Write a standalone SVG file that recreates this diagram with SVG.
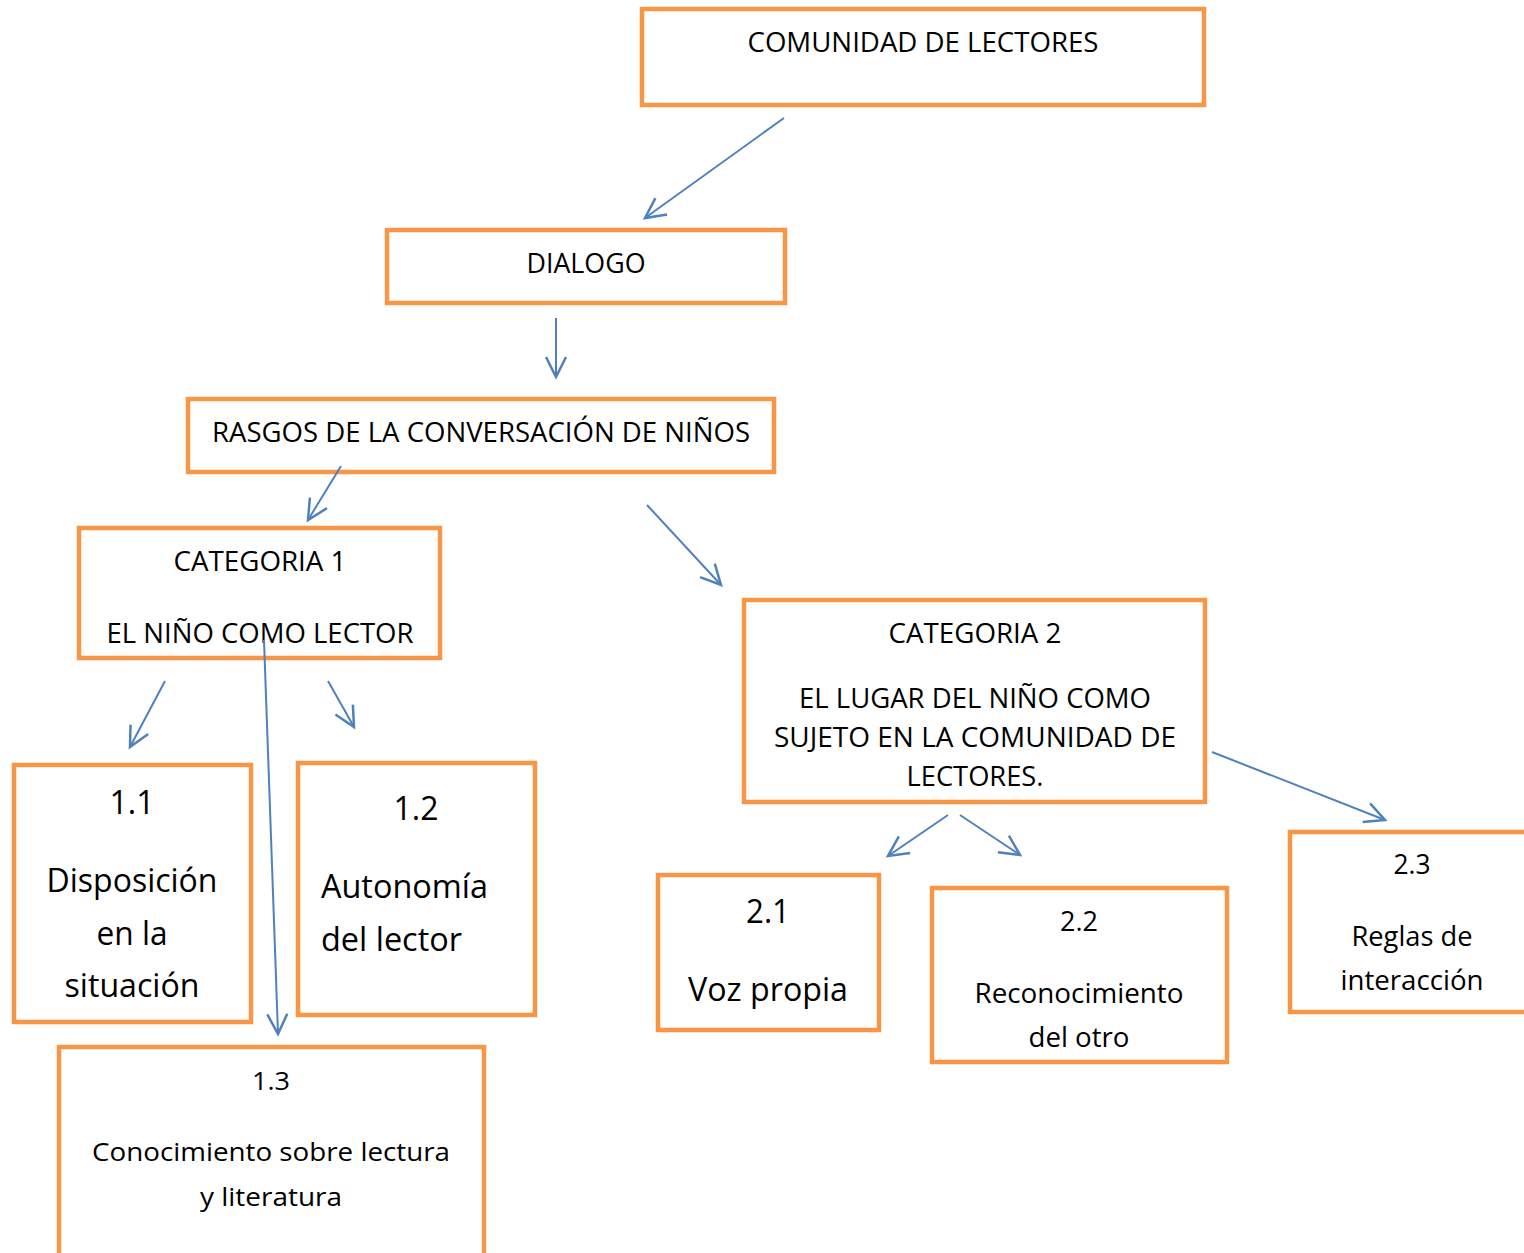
<svg xmlns="http://www.w3.org/2000/svg" width="1524" height="1253" viewBox="0 0 1524 1253">
<style>
.box{fill:#fff;stroke:#F79646;stroke-width:4.5}
.t{font-family:"Open Sans","Liberation Sans",sans-serif;fill:#000;text-anchor:middle}
.l{text-anchor:start}
.c{stroke:#4F81BD;stroke-width:2;fill:none;marker-end:url(#ah)}
</style>
<defs>
<marker id="ah" markerUnits="userSpaceOnUse" markerWidth="30" markerHeight="30" viewBox="-20 -12 24 24" refX="0" refY="0" orient="auto">
<path d="M-16,-8 L0,0 L-16,8" fill="none" stroke="#4F81BD" stroke-width="2"/>
</marker>
</defs>
<rect width="1524" height="1253" fill="#fff"/>
<g id="n-comunidad"><rect class="box" x="642" y="9" width="562" height="96"/>
<text class="t" x="923" y="52" font-size="28" textLength="351" lengthAdjust="spacingAndGlyphs">COMUNIDAD DE LECTORES</text></g>
<g id="n-dialogo"><rect class="box" x="387" y="230" width="398" height="73"/>
<text class="t" x="586" y="273" font-size="28" textLength="119" lengthAdjust="spacingAndGlyphs">DIALOGO</text></g>
<g id="n-rasgos"><rect class="box" x="188" y="399" width="586" height="73"/>
<text class="t" x="481" y="442" font-size="28" textLength="538" lengthAdjust="spacingAndGlyphs">RASGOS DE LA CONVERSACIÓN DE NIÑOS</text></g>
<g id="n-cat1"><rect class="box" x="79" y="528" width="361" height="130"/>
<text class="t" x="260" y="571" font-size="28" textLength="173" lengthAdjust="spacingAndGlyphs">CATEGORIA 1</text>
<text class="t" x="260" y="643" font-size="28" textLength="307" lengthAdjust="spacingAndGlyphs">EL NIÑO COMO LECTOR</text></g>
<g id="n-11"><rect class="box" x="14" y="765" width="237" height="257"/>
<text class="t" x="132" y="814" font-size="32" textLength="45" lengthAdjust="spacingAndGlyphs">1.1</text>
<text class="t" x="132" y="892" font-size="33" textLength="171" lengthAdjust="spacingAndGlyphs">Disposición</text>
<text class="t" x="132" y="945" font-size="33" textLength="71" lengthAdjust="spacingAndGlyphs">en la</text>
<text class="t" x="132" y="997" font-size="33" textLength="135" lengthAdjust="spacingAndGlyphs">situación</text></g>
<g id="n-12"><rect class="box" x="298" y="763" width="237" height="252"/>
<text class="t" x="416" y="820" font-size="32" textLength="45" lengthAdjust="spacingAndGlyphs">1.2</text>
<text class="t l" x="321" y="898" font-size="33" textLength="167" lengthAdjust="spacingAndGlyphs">Autonomía</text>
<text class="t l" x="321" y="951" font-size="33" textLength="141" lengthAdjust="spacingAndGlyphs">del lector</text></g>
<g id="n-13"><rect class="box" x="59" y="1047" width="425" height="216"/>
<text class="t" x="271" y="1090" font-size="25" textLength="38" lengthAdjust="spacingAndGlyphs">1.3</text>
<text class="t" x="271" y="1161" font-size="26" textLength="358" lengthAdjust="spacingAndGlyphs">Conocimiento sobre lectura</text>
<text class="t" x="271" y="1206" font-size="26" textLength="142" lengthAdjust="spacingAndGlyphs">y literatura</text></g>
<g id="n-cat2"><rect class="box" x="744" y="600" width="461" height="202"/>
<text class="t" x="975" y="643" font-size="28" textLength="173" lengthAdjust="spacingAndGlyphs">CATEGORIA 2</text>
<text class="t" x="975" y="708" font-size="28" textLength="352" lengthAdjust="spacingAndGlyphs">EL LUGAR DEL NIÑO COMO</text>
<text class="t" x="975" y="747" font-size="28" textLength="402" lengthAdjust="spacingAndGlyphs">SUJETO EN LA COMUNIDAD DE</text>
<text class="t" x="975" y="786" font-size="28" textLength="137" lengthAdjust="spacingAndGlyphs">LECTORES.</text></g>
<g id="n-21"><rect class="box" x="658" y="875" width="221" height="155"/>
<text class="t" x="768" y="923" font-size="32" textLength="44" lengthAdjust="spacingAndGlyphs">2.1</text>
<text class="t" x="768" y="1001" font-size="33" textLength="160" lengthAdjust="spacingAndGlyphs">Voz propia</text></g>
<g id="n-22"><rect class="box" x="932" y="888" width="295" height="174"/>
<text class="t" x="1079" y="931" font-size="27" textLength="38" lengthAdjust="spacingAndGlyphs">2.2</text>
<text class="t" x="1079" y="1003" font-size="28" textLength="209" lengthAdjust="spacingAndGlyphs">Reconocimiento</text>
<text class="t" x="1079" y="1047" font-size="28" textLength="101" lengthAdjust="spacingAndGlyphs">del otro</text></g>
<g id="n-23"><rect class="box" x="1290" y="832" width="250" height="180"/>
<text class="t" x="1412" y="874" font-size="27" textLength="37" lengthAdjust="spacingAndGlyphs">2.3</text>
<text class="t" x="1412" y="946" font-size="28" textLength="121" lengthAdjust="spacingAndGlyphs">Reglas de</text>
<text class="t" x="1412" y="990" font-size="28" textLength="143" lengthAdjust="spacingAndGlyphs">interacción</text></g>
<g id="connectors">
<line class="c" x1="784" y1="118" x2="645" y2="218"/>
<line class="c" x1="556" y1="318" x2="556" y2="377"/>
<line class="c" x1="341" y1="466" x2="308" y2="520"/>
<line class="c" x1="647" y1="505" x2="721" y2="585"/>
<line class="c" x1="165" y1="681" x2="130" y2="747"/>
<line class="c" x1="328" y1="681" x2="354" y2="727"/>
<line class="c" x1="264" y1="640" x2="278" y2="1034"/>
<line class="c" x1="1212" y1="752" x2="1385" y2="820"/>
<line class="c" x1="948" y1="815" x2="888" y2="856"/>
<line class="c" x1="960" y1="815" x2="1020" y2="855"/>
</g>
</svg>
